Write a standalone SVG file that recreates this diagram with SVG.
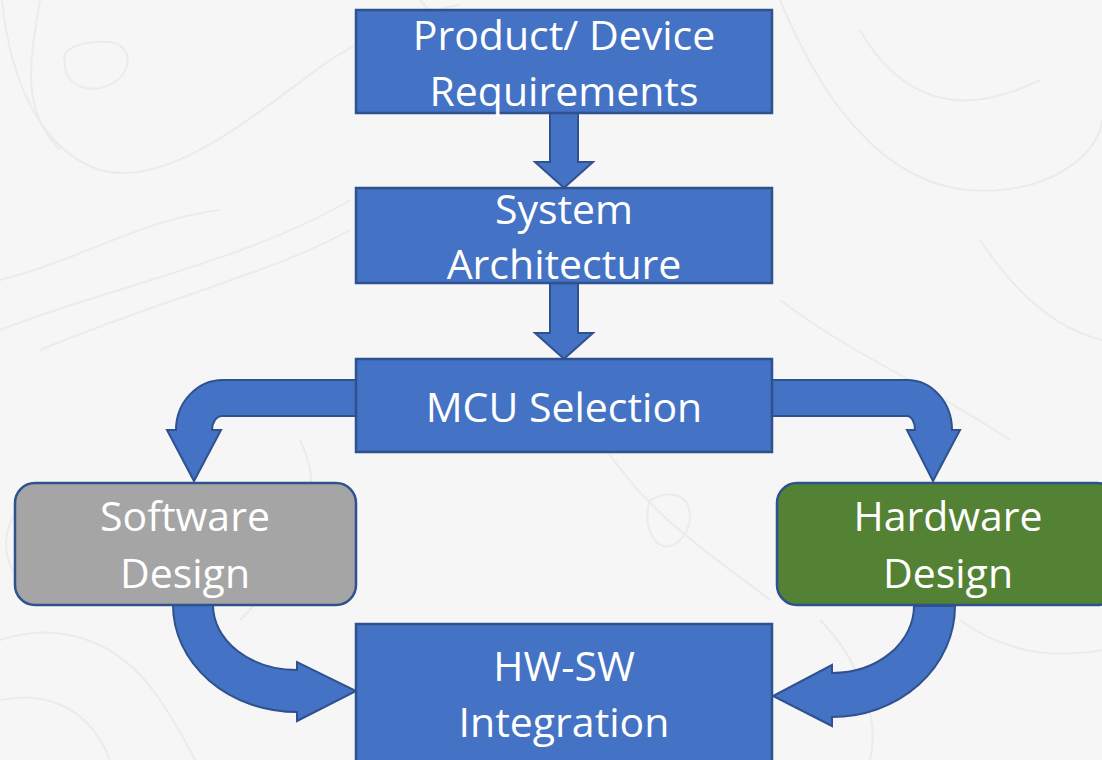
<svg xmlns="http://www.w3.org/2000/svg" width="1102" height="760" viewBox="0 0 1102 760">
  <style>
    .box { fill: #4472C4; stroke: #2F528F; stroke-width: 2.5; }
    .sw { fill: #A5A5A5; stroke: #2F528F; stroke-width: 2.5; }
    .hw { fill: #548235; stroke: #2F528F; stroke-width: 2.5; }
    .arrow { fill: #4472C4; stroke: #2F528F; stroke-width: 2; stroke-linejoin: miter; }
    .label { font-family: "Open Sans", "Noto Sans", sans-serif; font-size: 41px; fill: #FFFFFF; text-anchor: middle; }
    .contour { fill: none; stroke: #EBEBEB; stroke-width: 2; }
  </style>

  <!-- backdrop with faint contour lines -->
  <rect width="1102" height="760" fill="#F6F6F6"/>
  <g id="backdrop">
    <path class="contour" d="M2,0 C10,80 40,150 100,170 C170,190 260,110 330,60 C380,30 420,10 460,5"/>
    <path class="contour" d="M65,62 C60,50 80,40 110,42 C135,45 135,80 100,88 C75,92 63,75 65,62 Z"/>
    <path class="contour" d="M40,0 C30,60 20,110 60,150"/>
    <path class="contour" d="M0,330 C100,290 250,260 350,200"/>
    <path class="contour" d="M40,350 C160,300 280,270 350,230"/>
    <path class="contour" d="M0,280 C80,260 140,220 220,210"/>
    <path class="contour" d="M420,0 C470,60 520,60 600,10"/>
    <path class="contour" d="M780,0 C830,120 900,200 1000,190 C1060,185 1100,150 1102,120"/>
    <path class="contour" d="M860,30 C900,100 960,120 1040,80"/>
    <path class="contour" d="M980,240 C1020,300 1060,330 1102,340"/>
    <path class="contour" d="M780,300 C860,360 920,380 1010,440"/>
    <path class="contour" d="M0,640 C60,620 120,640 160,700 C180,730 190,750 195,760"/>
    <path class="contour" d="M0,700 C50,690 90,710 110,760"/>
    <path class="contour" d="M240,620 C300,560 330,500 300,440"/>
    <path class="contour" d="M820,620 C860,660 880,720 870,760"/>
    <path class="contour" d="M960,620 C1000,650 1050,660 1102,650"/>
    <path class="contour" d="M650,500 C690,480 700,520 680,540 C660,560 640,530 650,500 Z"/>
    <path class="contour" d="M600,440 C650,520 720,560 770,600"/>
    <path class="contour" d="M30,500 C0,520 0,560 20,580"/>
  </g>

  <!-- connectors -->
  <g id="connectors">
    <!-- requirements to architecture -->
    <path class="arrow" d="M550,113 L578,113 L578,162 L593,162 L564,188 L535,162 L550,162 Z"/>
    <!-- architecture to MCU selection -->
    <path class="arrow" d="M550,283 L578,283 L578,333 L593,333 L564,359 L535,333 L550,333 Z"/>
    <!-- MCU selection to software design -->
    <path class="arrow" d="M356,380 L223,380 A47,50 0 0 0 176,430 L167,430 L194,481 L221,430 L212,430 A10,14 0 0 1 222,416 L356,416 Z"/>
    <!-- MCU selection to hardware design -->
    <path class="arrow" d="M772,380 L907,380 A45,50 0 0 1 952,430 L960,430 L933,481 L907,430 L915,430 A8,14 0 0 0 907,416 L772,416 Z"/>
    <!-- software design to integration -->
    <path class="arrow" d="M173,605 A124,107 0 0 0 297,712 L297,721 L356,691 L297,662 L297,670 A84,65 0 0 1 213,605 Z"/>
    <!-- hardware design to integration -->
    <path class="arrow" d="M955,606 A123,111 0 0 1 832,717 L832,726 L773,696 L832,665 L832,673 A82,67 0 0 0 914,606 Z"/>
  </g>

  <g id="requirements">
    <rect class="box" x="356" y="10" width="416" height="103"/>
    <text class="label" x="564" y="50">Product/ Device</text>
    <text class="label" x="564" y="106">Requirements</text>
  </g>

  <g id="architecture">
    <rect class="box" x="356" y="188" width="416" height="95"/>
    <text class="label" x="564" y="224">System</text>
    <text class="label" x="564" y="279">Architecture</text>
  </g>

  <g id="mcu-selection">
    <rect class="box" x="356" y="359" width="416" height="93"/>
    <text class="label" x="564" y="422">MCU Selection</text>
  </g>

  <g id="software-design">
    <rect class="sw" x="15" y="483" width="341" height="122" rx="20" ry="20"/>
    <text class="label" x="185" y="531">Software</text>
    <text class="label" x="185" y="588">Design</text>
  </g>

  <g id="hardware-design">
    <rect class="hw" x="777" y="483" width="340" height="122" rx="20" ry="20"/>
    <text class="label" x="948" y="531">Hardware</text>
    <text class="label" x="948" y="588">Design</text>
  </g>

  <g id="integration">
    <rect class="box" x="356" y="624" width="416" height="150"/>
    <text class="label" x="564" y="681">HW-SW</text>
    <text class="label" x="564" y="737">Integration</text>
  </g>
</svg>
